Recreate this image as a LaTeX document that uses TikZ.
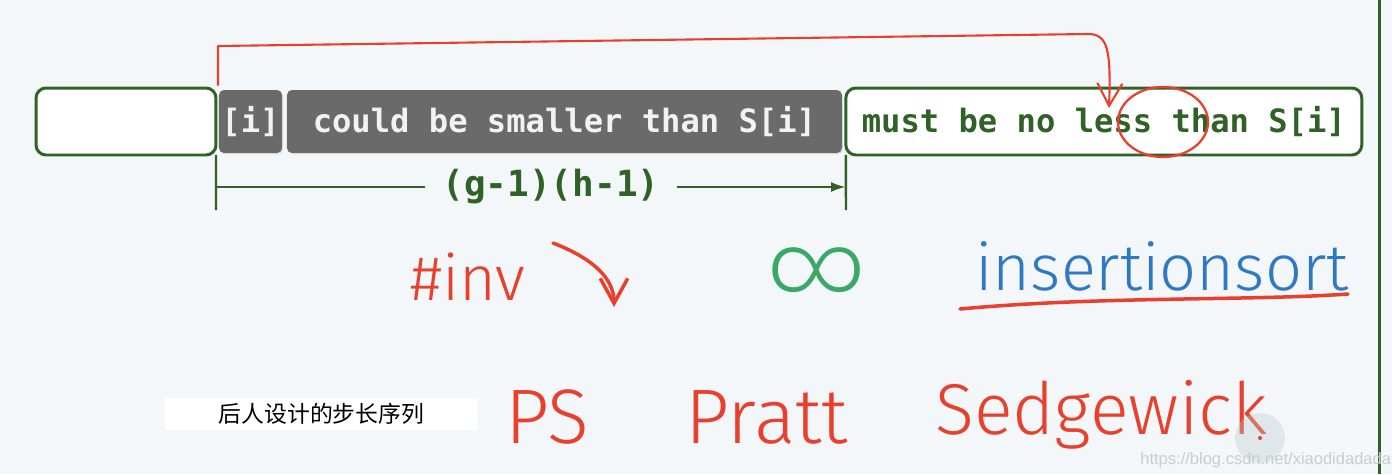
\documentclass[tikz,border=0pt]{standalone}
\usepackage{fontspec}
\setmonofont{DejaVu Sans Mono}
\newfontfamily\handfont{Fira Sans Light}
\newfontfamily\thinfont{Fira Sans ExtraLight}
\newfontfamily\cjkfont{Noto Sans CJK SC}
\newfontfamily\markfont{Liberation Sans}
\usepackage{xcolor}
\usepackage{tikz}
\usetikzlibrary{arrows.meta, positioning, shadows}

\definecolor{slidebg}{RGB}{243,247,250}
\definecolor{boxgreen}{RGB}{48,98,40}
\definecolor{cellgray}{RGB}{106,106,106}
\definecolor{penred}{RGB}{232,64,44}
\definecolor{penblue}{RGB}{46,120,196}
\definecolor{pengreen}{RGB}{58,168,104}

\begin{document}
\begin{tikzpicture}[x=0.02cm, y=-0.02cm, on grid,
  cell/.style={rectangle, rounded corners=0.2cm, draw=boxgreen, line width=1.7pt, fill=white,
    minimum height=1.34cm, inner sep=0pt, outer sep=0pt, text=boxgreen,
    font=\ttfamily\bfseries\fontsize{18.3}{22}\selectfont},
  graycell/.style={rectangle, rounded corners=0.1cm, fill=cellgray, minimum height=1.26cm,
    inner sep=0pt, outer sep=0pt, text=black!5,
    font=\ttfamily\bfseries\fontsize{18.3}{22}\selectfont,
    drop shadow={shadow xshift=0.6pt, shadow yshift=-0.6pt, opacity=0.25}},
  dim/.style={draw=boxgreen, line width=1.4pt},
  pen/.style={penred, line width=1.2pt, line cap=round, line join=round},
  hand/.style={anchor=base west, inner sep=0pt, font=\handfont\fontsize{#1}{#1}\selectfont},
]
\useasboundingbox (0,0) rectangle (1392,474);
\fill[slidebg] (0,0) rectangle (1392,474);
\draw[boxgreen, line width=1.7pt] (1379,0) -- (1379,474);

\node[cell, minimum width=3.6cm] (c_0) at (126,121.5) {};
\node[graycell, minimum width=1.26cm] (c_1) [right=2.49cm of c_0] {[i]};
\node[graycell, minimum width=11.1cm] (c_2) [right=6.28cm of c_1] {could be smaller than S[i]};
\node[cell, minimum width=10.32cm] (c_3) [right=10.79cm of c_2] {must be no less than S[i]};

\coordinate (r_0) at (218,46);
\coordinate (r_1) at (1088,34);
\coordinate (hit) at (1109,108);
\draw[pen, -{Straight Barb[length=0.45cm, width=0.5cm]}]
  ([xshift=-0.02cm, yshift=0.1cm]c_1.north west) -- (r_0) -- (r_1)
  .. controls (1108,34) and (1111,50) .. (hit);
\draw[pen, line width=1.3pt] (1163,122) ellipse [x radius=0.9cm, y radius=0.7cm];

\node[inner xsep=0.35cm, inner ysep=0pt, outer sep=0pt, text=boxgreen,
  font=\ttfamily\bfseries\fontsize{20.5}{24}\selectfont] (span) at (551,187) {(g-1)(h-1)};
\coordinate (t_0) at (216,210);
\coordinate (t_1) at (846,210);
\draw[dim] (c_0.south east) -- (t_0);
\draw[dim] (c_3.south west) -- (t_1);
\draw[dim] (span.west) -- (span.west -| t_0);
\draw[dim, -{Latex[length=0.3cm, width=0.2cm]}] (span.east) -- (span.east -| t_1);

\node[hand=36, text=penred] (inv) at (410,300) {\#inv};
\coordinate (a_0) at (553,243);
\coordinate (a_1) at (614,307);
\draw[pen, line width=2pt, -{Straight Barb[length=0.5cm, width=0.55cm]}]
  (a_0) .. controls (592,258) and (614,278) .. (a_1);
\node[inner sep=0pt, text=pengreen, font=\thinfont\fontsize{68}{68}\selectfont] (inf) at (817,278) {∞};
\node[hand=37, text=penblue] (ins) at (975,290) {insertionsort};
\draw[pen, line width=2pt] (960,309) .. controls (1100,296) and (1250,301) .. (1348,294);

\node[fill=white, minimum width=6.26cm, minimum height=0.64cm, inner sep=0pt,
  font=\cjkfont\fontsize{13}{13}\selectfont] (seq) at (321.5,414) {后人设计的步长序列};
\node[hand=44, text=penred] (ps) at (505,443) {PS};
\node[hand=44, text=penred] (pratt) at (685,443) {Pratt};
\node[hand=41, text=penred] (sedg) at (935,434) {Sedgewick};

\fill[cyan!30!black!30, opacity=0.35] (1260,438) circle[radius=0.5cm];
\fill[penred] (1260,438) circle[radius=0.04cm];
\node[anchor=base west, inner sep=0pt, text=black!20,
  font=\markfont\fontsize{9.4}{10}\selectfont] (url) at (1140,464) {https://blog.csdn.net/xiaodidadada};
\end{tikzpicture}
\end{document}
